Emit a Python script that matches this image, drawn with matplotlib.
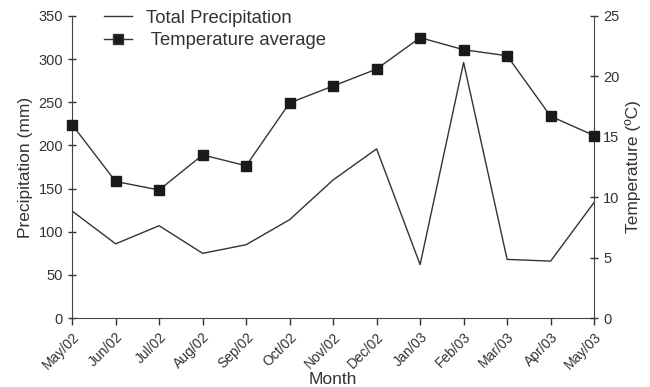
import matplotlib
matplotlib.use("Agg")
import matplotlib.pyplot as plt
from matplotlib.lines import Line2D

plt.rcParams['font.family'] = ['Liberation Sans', 'DejaVu Sans']

months = ["May/02", "Jun/02", "Jul/02", "Aug/02", "Sep/02", "Oct/02", "Nov/02",
          "Dec/02", "Jan/03", "Feb/03", "Mar/03", "Apr/03", "May/03"]
precipitation = [124, 86, 107, 75, 85, 114, 160, 196, 62, 296, 68, 66, 134]
temperature = [16.0, 11.3, 10.6, 13.5, 12.6, 17.8, 19.2, 20.6, 23.2, 22.2, 21.7, 16.7, 15.1]
prec_ticks = [0, 50, 100, 150, 200, 250, 300, 350]
temp_ticks = [0, 5, 10, 15, 20, 25]

tc = '#333333'
fig = plt.figure(figsize=(6.5, 3.87), dpi=100)
ax = fig.add_axes([0.111, 0.178, 0.803, 0.781])
x = list(range(len(months)))
ax.plot(x, precipitation, color='#333333', lw=1.0)
ax.set_xlim(0, len(months) - 1)
ax.set_ylim(0, 350)
ax.set_yticks(prec_ticks)
ax.set_xticks(x)
ax.set_xticklabels(months, rotation=45, ha='right', rotation_mode='anchor', fontsize=10, color=tc)
ax.tick_params(axis='y', labelsize=10.5, colors=tc, direction='inout', length=6, width=1)
ax.tick_params(axis='x', direction='out', length=5, width=1, colors=tc)
ax.set_ylabel("Precipitation (mm)", fontsize=12.5, color=tc)
ax.set_xlabel("Month", fontsize=12.5, color=tc, labelpad=0)
ax.spines['top'].set_visible(False)
ax.spines['right'].set_visible(False)
for s in ['left', 'bottom']:
    ax.spines[s].set_color('#444444')

ax2 = ax.twinx()
ax2.plot(x, temperature, color='#333333', lw=1.0, marker='s', ms=6.8,
         markerfacecolor='#1a1a1a', markeredgecolor='#1a1a1a', clip_on=False, zorder=5)
ax2.set_ylim(0, 25)
ax2.set_yticks(temp_ticks)
ax2.tick_params(axis='y', labelsize=10.5, colors=tc, direction='inout', length=6, width=1)
ax2.set_ylabel("Temperature (ºC)", fontsize=12.5, color=tc)
ax2.spines['top'].set_visible(False)
ax2.spines['left'].set_visible(False)
ax2.spines['bottom'].set_visible(False)
ax2.spines['right'].set_color('#444444')

handles = [Line2D([], [], color='#333333', lw=1.0),
           Line2D([], [], color='#333333', lw=1.0, marker='s', ms=6.8, markerfacecolor='#1a1a1a')]
leg = ax.legend(handles, ["Total Precipitation", " Temperature average"], loc='upper left',
                bbox_to_anchor=(0.061, 1.02), frameon=False, fontsize=13.3,
                borderaxespad=0, borderpad=0,
                handlelength=1.5, labelspacing=0.3, handletextpad=0.75)
for t in leg.get_texts():
    t.set_color(tc)

fig.savefig("out.png", dpi=100)
